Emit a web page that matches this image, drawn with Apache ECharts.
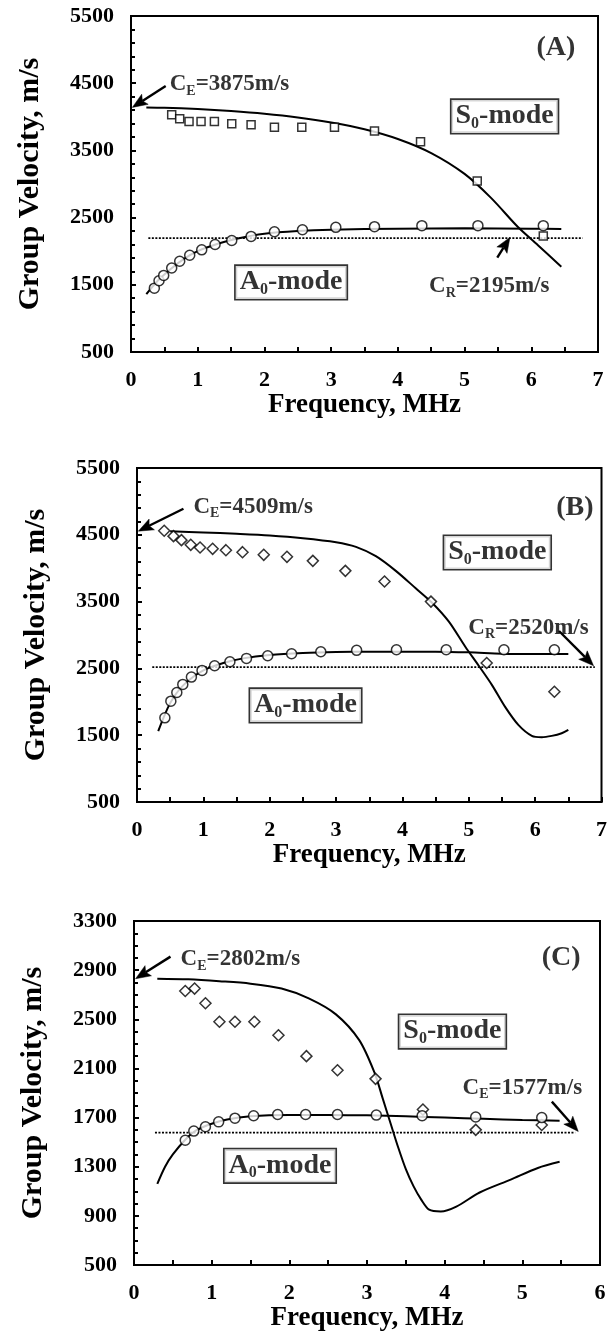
<!DOCTYPE html>
<html>
<head>
<meta charset="utf-8">
<script src="https://cdn.jsdelivr.net/npm/echarts@6/dist/echarts.min.js"></script>
<style>
  html, body { margin: 0; padding: 0; background: #fff; }
  #chart { width: 610px; height: 1337px; }
</style>
</head>
<body>
<div id="chart"></div>
<script>
// ---- Panel A ----
const aS0TheoryF = [0.23, 0.5, 1.0, 1.5, 2.0, 2.5, 3.0, 3.5, 4.0, 4.5, 5.0, 5.4, 5.8, 6.1, 6.45];
const aS0TheoryV = [4140, 4135, 4115, 4085, 4045, 3990, 3915, 3815, 3670, 3460, 3150, 2790, 2360, 2090, 1770];
const aA0TheoryF = [0.23, 0.4, 0.6, 0.8, 1.0, 1.3, 1.6, 2.0, 2.5, 3.0, 4.0, 5.0, 6.0, 6.45];
const aA0TheoryV = [1360, 1560, 1740, 1890, 2000, 2110, 2190, 2260, 2300, 2320, 2335, 2340, 2335, 2330];
const aS0MeasF = [0.61, 0.73, 0.87, 1.05, 1.25, 1.51, 1.80, 2.15, 2.56, 3.05, 3.65, 4.34, 5.19, 6.18];
const aS0MeasV = [4030, 3970, 3930, 3930, 3930, 3895, 3880, 3845, 3845, 3845, 3790, 3630, 3045, 2225];
const aA0MeasF = [0.35, 0.42, 0.49, 0.61, 0.73, 0.88, 1.06, 1.26, 1.51, 1.80, 2.15, 2.57, 3.07, 3.65, 4.36, 5.20, 6.18];
const aA0MeasV = [1450, 1560, 1640, 1750, 1850, 1940, 2020, 2100, 2160, 2220, 2290, 2320, 2355, 2365, 2380, 2380, 2380];
const aRayleigh = 2195;
const aExtensional = 3875;

// ---- Panel B ----
const bS0TheoryF = [0.5, 1.0, 1.5, 2.0, 2.5, 3.0, 3.3, 3.6, 3.9, 4.2, 4.45, 4.7, 4.95, 5.15, 5.35, 5.55, 5.75, 5.95, 6.1, 6.25, 6.4, 6.5];
const bS0TheoryV = [4555, 4535, 4515, 4490, 4450, 4390, 4320, 4180, 3960, 3700, 3480, 3200, 2820, 2540, 2250, 1920, 1650, 1490, 1470, 1490, 1530, 1580];
const bA0TheoryF = [0.32, 0.5, 0.7, 1.0, 1.3, 1.6, 2.0, 2.5, 3.0, 3.5, 4.0, 4.5, 5.0, 5.5, 6.0, 6.5];
const bA0TheoryV = [1560, 1980, 2250, 2470, 2580, 2650, 2700, 2730, 2745, 2750, 2750, 2750, 2740, 2720, 2715, 2715];
const bS0MeasF = [0.41, 0.55, 0.67, 0.81, 0.95, 1.14, 1.34, 1.59, 1.91, 2.26, 2.65, 3.14, 3.73, 4.43, 5.27, 6.29];
const bS0MeasV = [4560, 4480, 4420, 4350, 4310, 4290, 4270, 4240, 4200, 4170, 4110, 3960, 3800, 3500, 2580, 2150];
const bA0MeasF = [0.42, 0.51, 0.60, 0.69, 0.82, 0.98, 1.17, 1.40, 1.65, 1.97, 2.33, 2.77, 3.31, 3.91, 4.66, 5.53, 6.29];
const bA0MeasV = [1760, 2010, 2140, 2260, 2370, 2470, 2540, 2600, 2650, 2690, 2720, 2750, 2770, 2780, 2780, 2780, 2780];
const bRayleigh = 2520;
const bExtensional = 4509;

// ---- Panel C ----
const cS0TheoryF = [0.3, 0.7, 1.1, 1.5, 1.9, 2.25, 2.6, 2.9, 3.1, 3.2, 3.3, 3.4, 3.5, 3.6, 3.7, 3.8, 3.95, 4.15, 4.45, 4.85, 5.2, 5.48];
const cS0TheoryV = [2830, 2825, 2810, 2790, 2750, 2670, 2540, 2330, 2060, 1860, 1660, 1460, 1280, 1140, 1030, 950, 935, 975, 1090, 1195, 1290, 1340];
const cA0TheoryF = [0.3, 0.4, 0.5, 0.66, 0.8, 1.0, 1.2, 1.5, 2.0, 2.5, 3.0, 3.5, 4.0, 4.5, 5.0, 5.48];
const cA0TheoryV = [1160, 1300, 1400, 1520, 1595, 1650, 1685, 1710, 1720, 1720, 1718, 1710, 1700, 1690, 1680, 1675];
const cS0MeasF = [0.66, 0.78, 0.92, 1.10, 1.30, 1.55, 1.86, 2.22, 2.62, 3.11, 3.72, 4.40, 5.25];
const cS0MeasV = [2730, 2750, 2630, 2480, 2480, 2480, 2370, 2200, 2085, 2015, 1765, 1600, 1640];
const cA0MeasF = [0.66, 0.77, 0.92, 1.09, 1.30, 1.54, 1.85, 2.21, 2.62, 3.12, 3.71, 4.40, 5.25];
const cA0MeasV = [1515, 1590, 1625, 1665, 1695, 1715, 1725, 1725, 1725, 1720, 1715, 1705, 1700];
const cSecondLevel = 1577;
const cExtensional = 2802;

// ---- axis ranges / ticks ----
const yRanges = [[500, 5500, 1000, 5], [500, 5500, 1000, 5], [500, 3300, 400, 4]];
const xRanges = [[0, 7], [0, 7], [0, 6]];
const xTitle = 'Frequency, MHz';
const yTitle = 'Group Velocity, m/s';

const FONT = '"Liberation Serif", "Times New Roman", serif';
const BLACK = '#000';

const pairs = (f, v) => f.map((x, i) => [x, v[i]]);

const rich = {
  t: { fontFamily: FONT, fontWeight: 'bold', fontSize: 23, color: BLACK },
  s: { fontFamily: FONT, fontWeight: 'bold', fontSize: 14, color: BLACK, padding: [14, 0, 0, 0] },
  m: { fontFamily: FONT, fontWeight: 'bold', fontSize: 28, color: BLACK },
  ms: { fontFamily: FONT, fontWeight: 'bold', fontSize: 16, color: BLACK, padding: [16, 0, 0, 0] }
};

const grids = [
  { left: 131, top: 16, width: 467, height: 336 },
  { left: 137, top: 468, width: 465, height: 334 },
  { left: 134, top: 921, width: 466, height: 344 }
];

const xAxes = xRanges.map((r, i) => ({
  type: 'value', gridIndex: i, min: r[0], max: r[1], interval: 1,
  name: xTitle, nameLocation: 'middle', nameGap: 40,
  nameTextStyle: { fontFamily: FONT, fontWeight: 'bold', fontSize: 27, color: BLACK },
  axisLine: { show: true, lineStyle: { color: BLACK, width: 2 } },
  axisTick: { show: true, inside: true, length: 5, lineStyle: { color: BLACK, width: 2 } },
  minorTick: { show: true, splitNumber: 2, length: 5, lineStyle: { color: BLACK, width: 2 } },
  splitLine: { show: false },
  axisLabel: { fontFamily: FONT, fontWeight: 'bold', fontSize: 22, color: BLACK, margin: 17 }
}));

const yAxes = yRanges.map((r, i) => ({
  type: 'value', gridIndex: i, min: r[0], max: r[1], interval: r[2],
  name: yTitle, nameLocation: 'middle', nameGap: 86,
  nameTextStyle: { fontFamily: FONT, fontWeight: 'bold', fontSize: 30, color: BLACK },
  axisLine: { show: true, lineStyle: { color: BLACK, width: 2 } },
  axisTick: { show: true, inside: true, length: 5, lineStyle: { color: BLACK, width: 2 } },
  minorTick: { show: true, splitNumber: r[3], length: 4, lineStyle: { color: BLACK, width: 2 } },
  splitLine: { show: false },
  axisLabel: {
    fontFamily: FONT, fontWeight: 'bold', fontSize: 22, color: BLACK, margin: 17,
    formatter: v => String(v)
  }
}));

function theory(gi, f, v) {
  return {
    type: 'line', xAxisIndex: gi, yAxisIndex: gi, data: pairs(f, v),
    smooth: 0.3, showSymbol: false, symbol: 'none', silent: true,
    lineStyle: { color: BLACK, width: 2 }, z: 3
  };
}

function measured(gi, f, v, symbol, size) {
  return {
    type: 'scatter', xAxisIndex: gi, yAxisIndex: gi, data: pairs(f, v),
    symbol, symbolSize: size, silent: true,
    itemStyle: { color: '#fff', borderColor: BLACK, borderWidth: 1.5 }, z: 5
  };
}

// dotted reference level
function level(gi, x0, x1, value) {
  return {
    type: 'line', xAxisIndex: gi, yAxisIndex: gi, data: [[x0, value], [x1, value]],
    showSymbol: false, symbol: 'none', silent: true,
    lineStyle: { color: BLACK, width: 1.8, type: [2, 1.5] }, z: 2
  };
}

// pointer arrows: each item is [tailX, tailY, tipX, tipY] in data units
function arrows(gi, items) {
  return {
    type: 'custom', xAxisIndex: gi, yAxisIndex: gi, silent: true, z: 6,
    data: items,
    renderItem: (params, api) => {
      const p0 = api.coord([api.value(0), api.value(1)]);
      const p1 = api.coord([api.value(2), api.value(3)]);
      const dx = p1[0] - p0[0], dy = p1[1] - p0[1];
      const len = Math.hypot(dx, dy) || 1;
      const ux = dx / len, uy = dy / len;
      const headL = 15, headW = 6, notch = 3;
      const bx = p1[0] - ux * headL, by = p1[1] - uy * headL;
      const nx = -uy, ny = ux;
      return {
        type: 'group',
        children: [
          {
            type: 'line',
            shape: { x1: p0[0], y1: p0[1], x2: bx + ux * notch, y2: by + uy * notch },
            style: { stroke: BLACK, lineWidth: 2.4 }
          },
          {
            type: 'polygon',
            shape: {
              points: [
                [p1[0], p1[1]],
                [bx + nx * headW, by + ny * headW],
                [bx + ux * notch, by + uy * notch],
                [bx - nx * headW, by - ny * headW]
              ]
            },
            style: { fill: BLACK, stroke: BLACK, lineWidth: 0.5 }
          }
        ]
      };
    }
  };
}

function text(gi, x, y, formatter, align, boxed) {
  return {
    type: 'scatter', xAxisIndex: gi, yAxisIndex: gi, data: [[x, y]],
    symbolSize: 0, silent: true, z: 8,
    label: {
      show: true, position: align === 'left' ? 'right' : 'inside', distance: 0,
      formatter, rich,
      borderColor: boxed ? BLACK : 'transparent', borderWidth: boxed ? 1.6 : 0,
      padding: boxed ? [0, 4, 1, 4] : 0,
      backgroundColor: boxed ? '#fff' : 'transparent'
    }
  };
}

const series = [
  // A
  level(0, 0.26, 6.77, aRayleigh),
  arrows(0, [
    [0.52, 4460, 0.02, aS0TheoryV[0]],
    [5.49, 1905, 5.68, aRayleigh + 10]
  ]),
  theory(0, aS0TheoryF, aS0TheoryV),
  theory(0, aA0TheoryF, aA0TheoryV),
  measured(0, aS0MeasF, aS0MeasV, 'rect', 8),
  measured(0, aA0MeasF, aA0MeasV, 'circle', 10),
  text(0, 0.58, 4487, '{t|C}{s|E}{t|=' + aExtensional + 'm/s}', 'left'),
  text(0, 6.37, 5020, '{m|(A)}'),
  text(0, 5.6, 4005, '{m|S}{ms|0}{m|-mode}', 'center', true),
  text(0, 2.4, 1536, '{m|A}{ms|0}{m|-mode}', 'center', true),
  text(0, 5.37, 1476, '{t|C}{s|R}{t|=' + aRayleigh + 'm/s}'),
  // B
  level(1, 0.23, 6.9, bRayleigh),
  arrows(1, [
    [0.70, 4890, 0.02, bS0TheoryV[0]],
    [6.36, 3060, 6.88, bRayleigh + 20]
  ]),
  theory(1, bS0TheoryF, bS0TheoryV),
  theory(1, bA0TheoryF, bA0TheoryV),
  measured(1, bS0MeasF, bS0MeasV, 'diamond', 11),
  measured(1, bA0MeasF, bA0MeasV, 'circle', 10),
  text(1, 0.85, 4920, '{t|C}{s|E}{t|=' + bExtensional + 'm/s}', 'left'),
  text(1, 6.6, 4900, '{m|(B)}'),
  text(1, 5.43, 4235, '{m|S}{ms|0}{m|-mode}', 'center', true),
  text(1, 2.54, 1946, '{m|A}{ms|0}{m|-mode}', 'center', true),
  text(1, 5.9, 3110, '{t|C}{s|R}{t|=' + bRayleigh + 'm/s}'),
  // C
  level(2, 0.27, 5.68, cSecondLevel),
  arrows(2, [
    [0.47, 3010, 0.02, cS0TheoryV[0]],
    [5.38, 1830, 5.72, cSecondLevel + 10]
  ]),
  theory(2, cS0TheoryF, cS0TheoryV),
  theory(2, cA0TheoryF, cA0TheoryV),
  measured(2, cS0MeasF, cS0MeasV, 'diamond', 11),
  measured(2, cA0MeasF, cA0MeasV, 'circle', 10),
  text(2, 0.6, 2990, '{t|C}{s|E}{t|=' + cExtensional + 'm/s}', 'left'),
  text(2, 5.5, 3000, '{m|(C)}'),
  text(2, 4.1, 2400, '{m|S}{ms|0}{m|-mode}', 'center', true),
  text(2, 1.88, 1307, '{m|A}{ms|0}{m|-mode}', 'center', true),
  text(2, 5.0, 1943, '{t|C}{s|E}{t|=' + cSecondLevel + 'm/s}')
];

const chart = echarts.init(document.getElementById('chart'), null, { renderer: 'canvas' });
chart.setOption({
  animation: false,
  backgroundColor: '#fff',
  grid: grids.map(g => Object.assign({ show: true, borderColor: BLACK, borderWidth: 2, backgroundColor: 'transparent' }, g)),
  xAxis: xAxes,
  yAxis: yAxes,
  series
});
</script>
</body>
</html>
